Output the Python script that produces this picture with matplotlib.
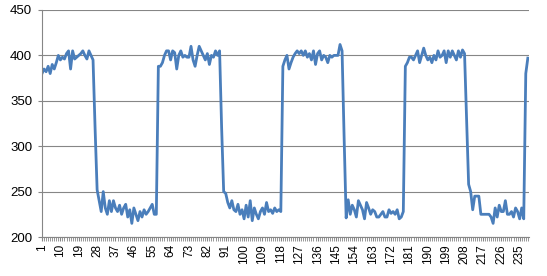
import matplotlib.pyplot as plt
import numpy as np

# readings, one value per sample (1..239)
high_1 = [380, 385, 382, 388, 380, 390, 385, 392, 400, 395, 398, 396, 402, 405,
          385, 405, 396, 398, 400, 402, 405, 400, 396, 405, 400, 395, 320]
low_1 = [252, 240, 228, 250, 232, 225, 240, 228, 240, 232, 228, 235, 225, 232,
         236, 222, 230, 215, 232, 225, 218, 228, 222, 230, 225, 228, 232, 236,
         225, 225]
high_2 = [388, 388, 392, 400, 405, 405, 395, 405, 403, 385, 400, 405, 398, 400,
          398, 398, 410, 395, 388, 400, 410, 405, 400, 395, 402, 390, 400, 398,
          405, 400, 405, 320]
low_2 = [250, 248, 238, 232, 240, 230, 228, 236, 225, 230, 220, 235, 222, 240,
         218, 232, 225, 220, 228, 232, 225, 238, 228, 230, 226, 232, 228, 230,
         228]
high_3 = [388, 395, 400, 385, 392, 398, 402, 405, 402, 405, 400, 405, 398, 402,
          395, 405, 390, 402, 405, 395, 400, 398, 392, 400, 398, 400, 400, 400,
          412, 405, 310]
low_3 = [221, 241, 225, 235, 230, 222, 240, 235, 230, 220, 238, 232, 225, 230,
         228, 222, 222, 225, 228, 222, 222, 230, 226, 228, 225, 230, 220, 222,
         228]
high_4 = [388, 392, 398, 398, 395, 400, 405, 392, 400, 408, 400, 395, 398, 392,
          400, 395, 405, 398, 400, 405, 392, 405, 398, 405, 400, 395, 405, 398,
          406, 402, 330]
low_4 = [258, 250, 230, 245, 245, 245, 225, 225, 225, 225, 225, 222, 215, 232,
         222, 235, 228, 228, 240, 225, 225, 228, 222, 232, 228, 220, 232, 220]
tail = [380, 397]

values = high_1 + low_1 + high_2 + low_2 + high_3 + low_3 + high_4 + low_4 + tail
samples = np.arange(1, len(values) + 1)

fig = plt.figure(figsize=(5.47, 2.76), dpi=100)
ax = fig.add_axes([0.0768, 0.1413, 0.890, 0.8225])

ax.plot(samples, values, color="#4a7ebb", linewidth=2.0, solid_joinstyle="round")

ax.set_ylim(200, 450)
ax.set_yticks(range(200, 451, 50))
ax.set_xlim(1, len(values) + 0.5)
ax.set_xticks(samples[::9])
ax.set_xticklabels([str(s) for s in samples[::9]], rotation=90)
ax.set_xticks(np.arange(1, len(values) + 1), minor=True)

ax.grid(axis="y", color="#868686", linewidth=0.8)
ax.set_axisbelow(True)
for s in ["top", "right"]:
    ax.spines[s].set_visible(False)
ax.spines["left"].set_color("#868686")
ax.spines["bottom"].set_color("#868686")
ax.tick_params(axis="y", length=3, color="#868686", labelsize=9.5, pad=4)
ax.tick_params(axis="x", which="both", length=3, color="#868686", labelsize=8.5, pad=2)
for lbl in ax.get_xticklabels() + ax.get_yticklabels():
    lbl.set_fontfamily("Liberation Sans")
    lbl.set_color("#000000")

fig.savefig("out.png", dpi=100)
